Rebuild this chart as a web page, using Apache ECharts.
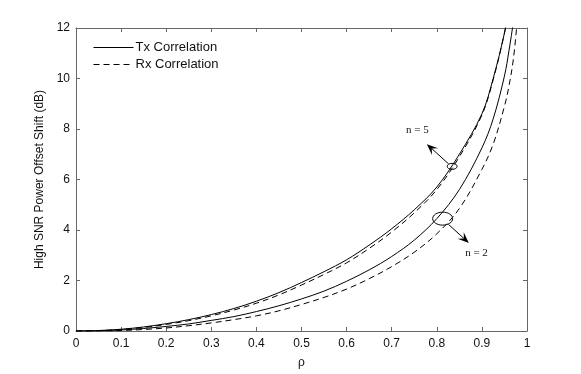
<!DOCTYPE html>
<html><head><meta charset="utf-8">
<script src="https://cdn.jsdelivr.net/npm/echarts@6/dist/echarts.min.js"></script>
<style>html,body{margin:0;padding:0;background:#fff}#c{width:581px;height:374px}</style>
</head><body><div id="c"></div>
<script>
var rho    = [0,0.05,0.1,0.15,0.2,0.25,0.3,0.35,0.4,0.45,0.5,0.55,0.6,0.65,0.7,0.75,0.8,0.85,0.9,0.925,0.95,0.96,0.97,0.98];
var txN5   = [0,0.02,0.07,0.16,0.29,0.45,0.65,0.89,1.18,1.52,1.92,2.35,2.82,3.4,4.05,4.8,5.7,7.0,8.6,10.0,11.8,12.8,14.5,17];
var rxN5   = [0,0.015,0.06,0.14,0.26,0.41,0.6,0.83,1.1,1.43,1.82,2.24,2.7,3.27,3.92,4.68,5.6,6.9,8.55,9.95,11.8,12.8,14.5,17];
var txN2   = [0,0.01,0.04,0.1,0.18,0.28,0.42,0.57,0.77,1.0,1.27,1.58,1.97,2.42,2.95,3.6,4.45,5.6,7.25,8.4,10.1,11.1,12.3,14];
var rxN2   = [0,0.005,0.02,0.06,0.12,0.21,0.32,0.45,0.6,0.8,1.05,1.33,1.66,2.07,2.55,3.12,3.85,4.85,6.4,7.4,8.9,9.7,10.8,12.6];
var xTicks = [0,0.1,0.2,0.3,0.4,0.5,0.6,0.7,0.8,0.9,1];
var yTicks = [0,2,4,6,8,10,12];
var legendNames = ['Tx Correlation','Rx Correlation'];
var annN5 = {label:'n = 5', ellipse:[0.834,6.52], from:[0.826,6.62], to:[0.778,7.4], text:[0.757,7.95]};
var annN2 = {label:'n = 2', ellipse:[0.813,4.45], from:[0.826,4.22], to:[0.871,3.49], text:[0.888,3.1]};

function pairs(v){ return rho.map(function(r,i){ return [r, v[i]]; }); }
var chart = echarts.init(document.getElementById('c'));
var axisCol = '#666';
function lineSeries(name, vals, dashed){
  return {type:'line', name:name, data:pairs(vals), smooth:0.35, symbol:'none', showSymbol:false, clip:true,
    lineStyle:{color:'#000', width:1, type: dashed ? [6,4] : 'solid'}, itemStyle:{color:'#000'}, z:3};
}
var baseAxisX = {type:'value', min:0, max:1, interval:0.1, splitLine:{show:false},
  axisLine:{show:true, onZero:false, lineStyle:{color:axisCol, width:1}},
  axisTick:{show:true, inside:true, length:4, lineStyle:{color:axisCol}}};
var baseAxisY = {type:'value', min:0, max:12, interval:2, splitLine:{show:false},
  axisLine:{show:true, onZero:false, lineStyle:{color:axisCol, width:1}},
  axisTick:{show:true, inside:true, length:4, lineStyle:{color:axisCol}}};
chart.setOption({
  animation:false,
  backgroundColor:'#fff',
  grid:{left:76, right:54, top:28, bottom:42, containLabel:false},
  legend:{data:legendNames, orient:'vertical', left:88, top:36, itemGap:4, itemWidth:40, itemHeight:12,
    itemStyle:{opacity:0}, lineStyle:{width:1, color:'#000'},
    textStyle:{fontFamily:'Liberation Sans', fontSize:13, color:'#111', padding:[0,0,0,-3]}},
  xAxis:[
    Object.assign({}, baseAxisX, {position:'bottom', name:'\u03c1', nameLocation:'middle', nameGap:26,
      nameTextStyle:{fontFamily:'Liberation Sans', fontSize:12, color:'#111'},
      axisLabel:{show:true, margin:7, fontFamily:'Liberation Sans', fontSize:12, color:'#111',
        formatter:function(v){ var k = xTicks.indexOf(Math.round(v*10)/10); return k>=0 ? String(xTicks[k]) : ''; }}}),
    Object.assign({}, baseAxisX, {position:'top', axisLabel:{show:false}})
  ],
  yAxis:[
    Object.assign({}, baseAxisY, {position:'left', name:'High SNR Power Offset Shift (dB)', nameLocation:'middle', nameGap:20,
      nameTextStyle:{fontFamily:'Liberation Sans', fontSize:12, color:'#111'},
      axisLabel:{show:true, margin:6, fontFamily:'Liberation Sans', fontSize:12, color:'#111',
        formatter:function(v){ return yTicks.indexOf(v)>=0 ? String(v) : ''; }}}),
    Object.assign({}, baseAxisY, {position:'right', axisLabel:{show:false}})
  ],
  series:[
    lineSeries('Tx Correlation', txN5, false),
    lineSeries('Rx Correlation', rxN5, true),
    lineSeries('Tx Correlation', txN2, false),
    lineSeries('Rx Correlation', rxN2, true)
  ]
});

function px(p){ return chart.convertToPixel({gridIndex:0}, p); }
function annotation(a, rx, ry){
  var c = px(a.ellipse), f = px(a.from), t = px(a.to), tx = px(a.text);
  var dx = t[0]-f[0], dy = t[1]-f[1], L = Math.sqrt(dx*dx+dy*dy), ux = dx/L, uy = dy/L;
  var hl = 11, hw = 4.5;
  var bx = t[0]-ux*hl, by = t[1]-uy*hl;
  var nx = t[0]-ux*hl*0.6, ny = t[1]-uy*hl*0.6;
  return [
    {type:'ellipse', shape:{cx:c[0], cy:c[1], rx:rx, ry:ry}, style:{fill:null, stroke:'#000', lineWidth:1}, z:10},
    {type:'line', shape:{x1:f[0], y1:f[1], x2:nx, y2:ny}, style:{stroke:'#000', lineWidth:1}, z:10},
    {type:'polygon', shape:{points:[[t[0],t[1]],[bx-uy*hw, by+ux*hw],[nx,ny],[bx+uy*hw, by-ux*hw]]}, style:{fill:'#000'}, z:10},
    {type:'text', x:tx[0], y:tx[1], style:{text:a.label, fill:'#111', font:'11px "Liberation Serif"', align:'center', verticalAlign:'middle'}, z:10}
  ];
}
chart.setOption({graphic:{elements: annotation(annN5, 5, 3).concat(annotation(annN2, 10, 6.5))}});
</script></body></html>
